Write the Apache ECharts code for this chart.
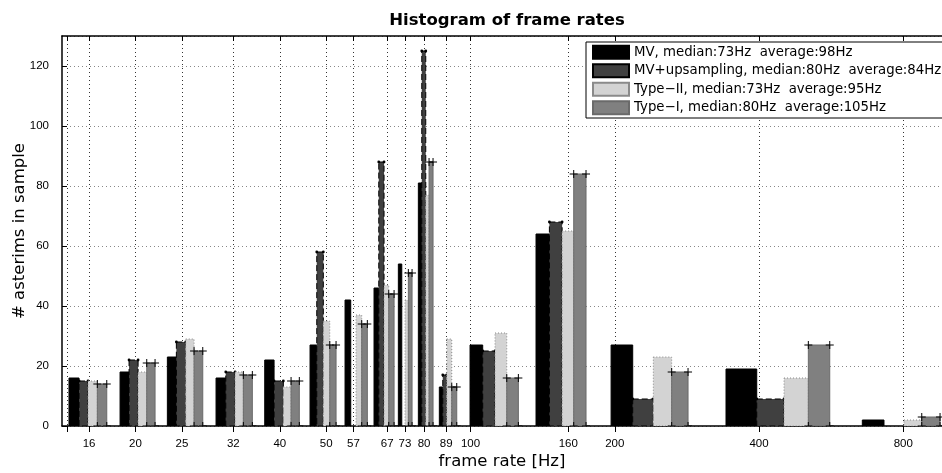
<!DOCTYPE html>
<html>
<head>
<meta charset="utf-8">
<script src="https://cdn.jsdelivr.net/npm/echarts@6/dist/echarts.min.js"></script>
<style>html,body{margin:0;padding:0;background:#fff;}#c{width:942px;height:473px;}</style>
</head>
<body>
<div id="c"></div>
<script>
// ---- data ----
const binLabelsHz = [16, 20, 25, 32, 40, 50, 57, 67, 73, 80, 89, 100, 160, 200, 400, 800];
const tickValuesHz = [14.4, 16, 20, 25, 32, 40, 50, 57, 67, 73, 80, 89, 100, 160, 200, 400, 800];
// bar edges (Hz) for each bin: [MV start, MV+up start, Type-II start, Type-I start, Type-I end]
const binEdgesHz = [
  [14.53, 15.25, 15.92, 16.65, 17.42],
  [18.57, 19.39, 20.25, 21.11, 21.97],
  [23.31, 24.34, 25.46, 26.50, 27.63],
  [29.45, 30.86, 32.27, 33.58, 35.06],
  [37.21, 38.92, 40.69, 42.23, 43.94],
  [46.26, 47.78, 49.31, 50.86, 52.42],
  [54.73, 56.25, 57.70, 59.30, 60.92],
  [62.91, 64.36, 66.01, 67.52, 69.27],
  [70.71, 71.88, 73.02, 74.19, 75.52],
  [77.84, 79.13, 80.66, 81.95, 83.53],
  [86.10, 87.53, 89.22, 91.39, 93.61],
  [99.78, 106.05, 112.51, 119.03, 125.86],
  [137.0, 146.1, 155.3, 164.2, 174.2],
  [196.5, 218.0, 240.7, 262.9, 284.4],
  [341.3, 395.6, 451.0, 506.9, 561.8],
  [657.0, 729.1, 802.6, 874.1, 954.4]
];
const mvCounts       = [16, 18, 23, 16, 22, 27, 42, 46, 54, 81, 13, 27, 64, 27, 19, 2];
const mvUpCounts     = [15, 22, 28, 18, 15, 58, 0, 88, 0, 125, 17, 25, 68, 9, 9, 0];
const typeIICounts   = [15, 18, 29, 18, 13, 35, 37, 47, 42, 77, 29, 31, 65, 23, 16, 2];
const typeICounts    = [14, 21, 25, 17, 15, 27, 34, 44, 51, 88, 13, 16, 84, 18, 27, 3];
const seriesNames = [
  'MV, median:73Hz  average:98Hz',
  'MV+upsampling, median:80Hz  average:84Hz',
  'Type\u2212II, median:73Hz  average:95Hz',
  'Type\u2212I, median:80Hz  average:105Hz'
];
const xRangeHz = [14.05, 963.4];
const yMax = 130;

// ---- styles ----
const styles = [
  { fill: '#000000', stroke: '#000000', lineWidth: 1, lineDash: null, marker: null },
  { fill: '#404040', stroke: '#000000', lineWidth: 1, lineDash: [6, 3], marker: 'dot' },
  { fill: '#d3d3d3', stroke: '#8a8a8a', lineWidth: 1, lineDash: [1, 2], marker: null },
  { fill: '#808080', stroke: '#6a6a6a', lineWidth: 1, lineDash: null, marker: 'plus' }
];
const countsAll = [mvCounts, mvUpCounts, typeIICounts, typeICounts];
const lg = Math.log10;

function makeRender(si) {
  const st = styles[si];
  return function (params, api) {
    const x0 = api.value(0), x1 = api.value(1), h = api.value(2);
    const tl = api.coord([x0, h]);
    const br = api.coord([x1, 0]);
    const children = [];
    if (h > 0) {
      children.push({
        type: 'rect',
        shape: { x: tl[0], y: tl[1], width: br[0] - tl[0], height: br[1] - tl[1] },
        style: { fill: st.fill, stroke: st.stroke, lineWidth: st.lineWidth, lineDash: st.lineDash }
      });
      if (st.marker === 'dot') {
        [[tl[0], tl[1]], [br[0], tl[1]]].forEach(function (p) {
          children.push({ type: 'circle', shape: { cx: p[0], cy: p[1], r: 1.4 }, style: { fill: '#000' } });
        });
      } else if (st.marker === 'plus') {
        [[tl[0], tl[1]], [br[0], tl[1]], [tl[0], br[1]], [br[0], br[1]]].forEach(function (p) {
          children.push({ type: 'line', shape: { x1: p[0] - 4, y1: p[1], x2: p[0] + 4, y2: p[1] }, style: { stroke: '#000', lineWidth: 1 } });
          children.push({ type: 'line', shape: { x1: p[0], y1: p[1] - 4, x2: p[0], y2: p[1] + 4 }, style: { stroke: '#000', lineWidth: 1 } });
        });
      }
    }
    return { type: 'group', children: children };
  };
}

const series = countsAll.map(function (counts, si) {
  return {
    name: seriesNames[si],
    type: 'custom',
    renderItem: makeRender(si),
    clip: true,
    encode: { x: [0, 1], y: 2 },
    itemStyle: {
      color: styles[si].fill,
      borderColor: styles[si].stroke,
      borderWidth: 1,
      borderType: styles[si].lineDash || 'solid'
    },
    data: counts.map(function (c, i) {
      return [lg(binEdgesHz[i][si]), lg(binEdgesHz[i][si + 1]), c];
    }),
    z: 2
  };
});

const tickLog = tickValuesHz.map(lg);
const labelSet = {};
binLabelsHz.forEach(function (v) { labelSet[v] = true; });
function fmtTick(v) {
  const hz = Math.round(Math.pow(10, v));
  return labelSet[hz] && Math.abs(Math.pow(10, v) - hz) < 0.05 ? String(hz) : '';
}

const chart = echarts.init(document.getElementById('c'), null, { renderer: 'canvas' });
chart.setOption({
  animation: false,
  backgroundColor: '#ffffff',
  title: {
    text: 'Histogram of frame rates',
    left: 502, textAlign: 'center', top: 7,
    textStyle: { fontFamily: 'DejaVu Sans', fontWeight: 'bold', fontSize: 16.5, color: '#000' }
  },
  legend: {
    orient: 'vertical',
    left: 586, top: 42,
    padding: [2, 3, 2, 6],
    itemWidth: 36, itemHeight: 13, itemGap: 2,
    icon: 'rect',
    backgroundColor: '#ffffff',
    borderColor: '#000', borderWidth: 1,
    textStyle: { fontFamily: 'DejaVu Sans', fontSize: 13.3, color: '#000', lineHeight: 16.5 },
    data: seriesNames
  },
  grid: { left: 62, right: 0, top: 36, bottom: 47, containLabel: false, outerBoundsMode: 'none' },
  xAxis: [{
    type: 'value',
    min: lg(xRangeHz[0]), max: lg(xRangeHz[1]),
    position: 'bottom',
    name: 'frame rate [Hz]', nameLocation: 'middle', nameGap: 27, nameMoveOverlap: false,
    nameTextStyle: { fontFamily: 'DejaVu Sans', fontSize: 16.5, color: '#000' },
    axisLine: { show: true, lineStyle: { color: '#000', width: 1.5 } },
    axisTick: { show: true, customValues: tickLog, length: 6, lineStyle: { color: '#000' } },
    axisLabel: { customValues: tickLog, formatter: fmtTick, margin: 12, color: '#000', fontFamily: 'Liberation Sans', fontSize: 11.5 },
    splitLine: { show: true, lineStyle: { color: '#333', type: [1, 3], width: 1 } }
  }, {
    type: 'value',
    min: lg(xRangeHz[0]), max: lg(xRangeHz[1]),
    position: 'top',
    axisLine: { show: true, lineStyle: { color: '#000', width: 1.5 } },
    axisTick: { show: true, inside: true, customValues: tickLog, length: 5, lineStyle: { color: '#000' } },
    axisLabel: { show: false },
    splitLine: { show: false }
  }],
  yAxis: {
    type: 'value', min: 0, max: yMax, interval: 20,
    name: '# asterims in sample', nameLocation: 'middle', nameGap: 34, nameMoveOverlap: false,
    nameTextStyle: { fontFamily: 'DejaVu Sans', fontSize: 16.5, color: '#000' },
    axisLine: { show: true, lineStyle: { color: '#000', width: 1.5 } },
    axisTick: { show: true, inside: true, length: 5, lineStyle: { color: '#000' } },
    axisLabel: { showMaxLabel: false, margin: 13, color: '#000', fontFamily: 'Liberation Sans', fontSize: 11.5 },
    splitLine: { show: true, lineStyle: { color: '#888', type: [1, 3], width: 1 } }
  },
  series: series
});
</script>
</body>
</html>
